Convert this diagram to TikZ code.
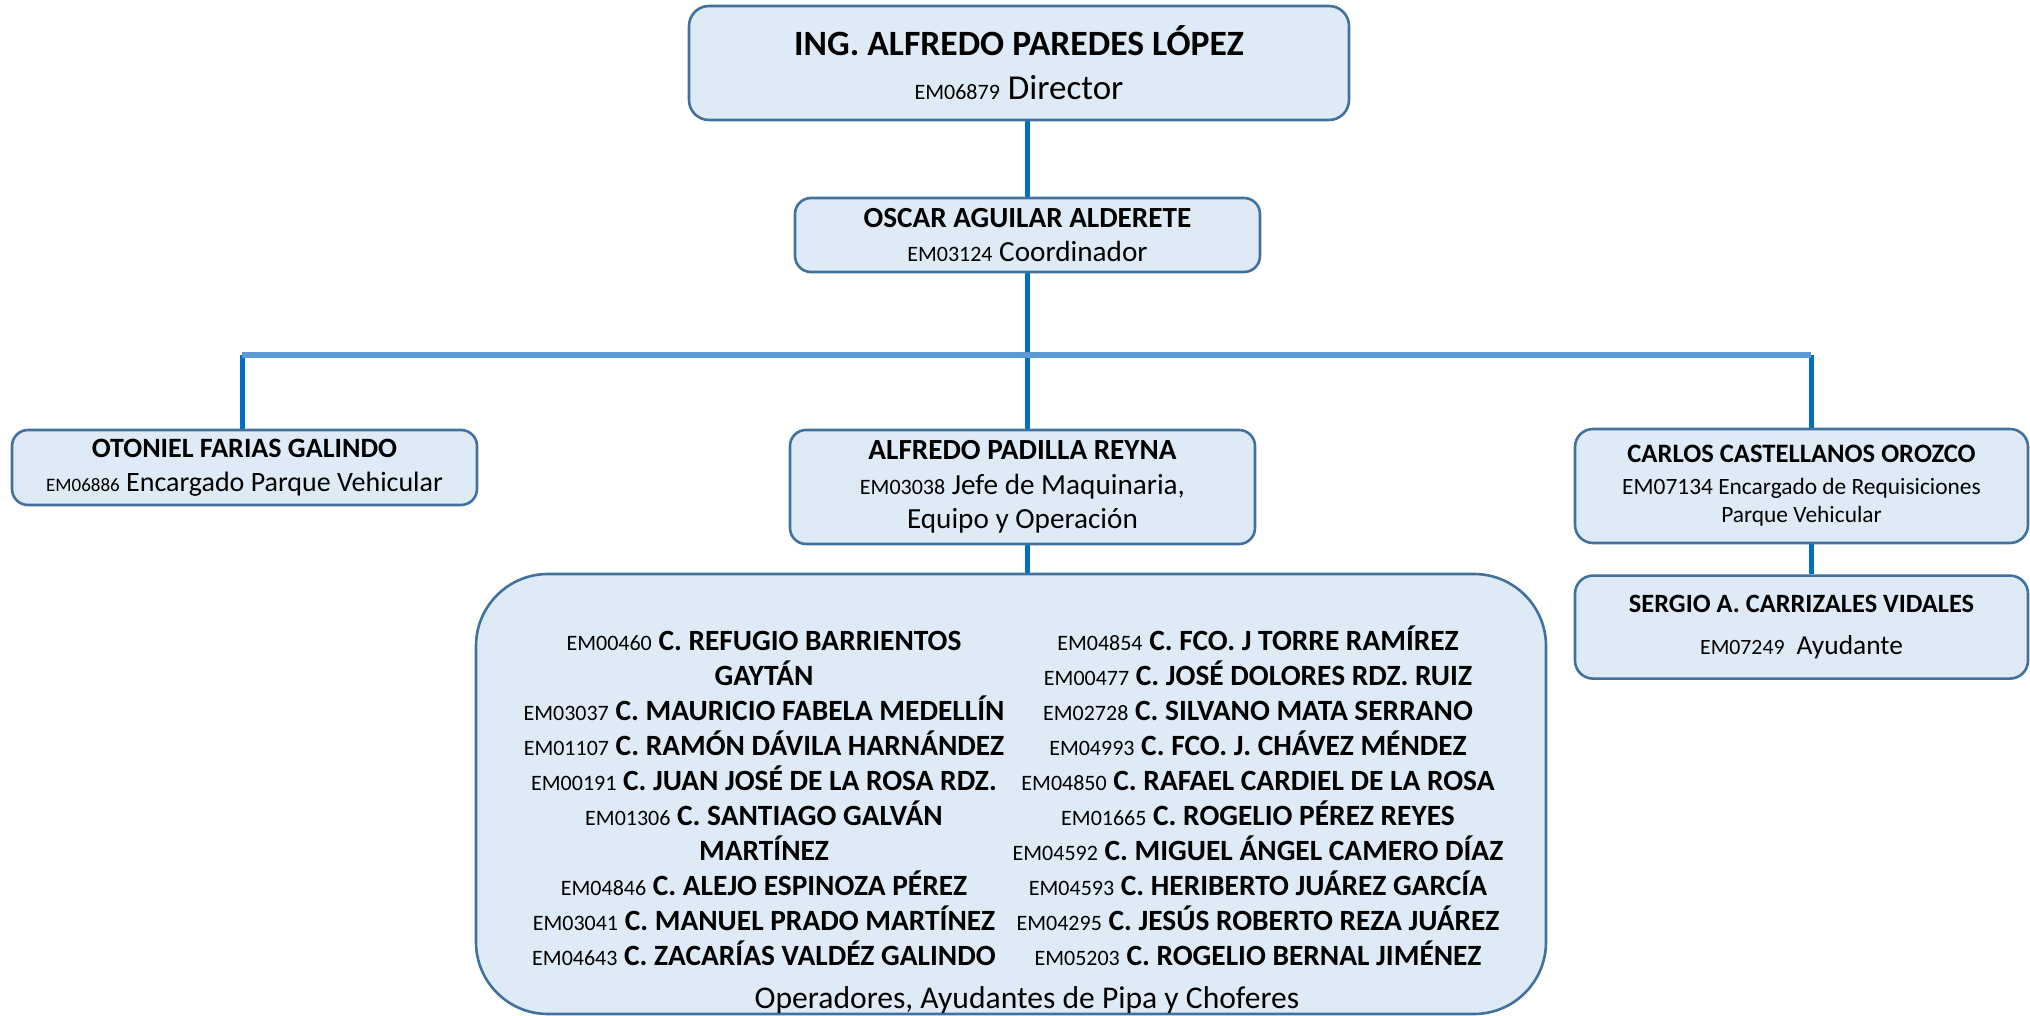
\documentclass[tikz,border=0pt]{standalone}
\usepackage{fontspec}
\setmainfont{Carlito}
\usetikzlibrary{positioning,calc,backgrounds}
\definecolor{cardfill}{HTML}{DEEBF7}
\definecolor{cardline}{HTML}{41719C}
\definecolor{stemblue}{HTML}{0070C0}
\definecolor{busblue}{HTML}{5B9BD5}
\newcommand{\empno}[2][11]{{\mdseries\fontsize{#1}{#1}\selectfont #2}}

\begin{document}
\begin{tikzpicture}[
  card/.style={draw=cardline,line width=1.3pt,fill=cardfill,rounded corners=8pt,inner sep=0pt,align=center},
  stemline/.style={draw=stemblue,line width=2.5pt},
  busline/.style={draw=busblue,line width=2.8pt},
  namecol/.style={inner sep=0pt,align=center,anchor=north,font=\fontsize{14.7}{17.5}\selectfont\bfseries}]
\useasboundingbox (0,0) rectangle (1015pt,-508pt);
% top: director and coordinator
\node[card,rounded corners=10pt,minimum width=330pt,minimum height=57pt,font=\fontsize{17.5}{22}\selectfont] (dir) at (509.5pt,-31.5pt)
  {{\fontsize{17.8}{22}\selectfont\bfseries ING. ALFREDO PAREDES LÓPEZ}\\ \empno{EM06879} Director};
\node[card,minimum width=232.5pt,minimum height=37pt,font=\fontsize{14.6}{17}\selectfont] (coord) at (513.75pt,-117.5pt)
  {\textbf{OSCAR AGUILAR ALDERETE}\\ \empno{EM03124} Coordinador};
% second level
\node[card,minimum width=232.5pt,minimum height=37.5pt,font=\fontsize{14}{17}\selectfont] (oto) at (122.25pt,-233.75pt)
  {\textbf{OTONIEL FARIAS GALINDO}\\ \empno[9.5]{EM06886} Encargado Parque Vehicular};
\node[card,minimum width=232.5pt,minimum height=57pt,font=\fontsize{14.6}{17.25}\selectfont] (padilla) at (511.25pt,-243.5pt)
  {\textbf{ALFREDO PADILLA REYNA}\\ \empno{EM03038} Jefe de Maquinaria,\\ Equipo y Operación};
\node[card,rounded corners=9pt,minimum width=226.5pt,minimum height=57pt,font=\fontsize{11.7}{14}\selectfont] (carlos) at (900.75pt,-243pt)
  {{\fontsize{13.3}{14}\selectfont\bfseries CARLOS CASTELLANOS OROZCO}\\[2pt] EM07134 Encargado de Requisiciones\\ Parque Vehicular};
\node[card,rounded corners=9pt,below=15pt of carlos,minimum width=226.5pt,minimum height=51.5pt,font=\fontsize{13.7}{21}\selectfont] (sergio)
  {{\fontsize{13.2}{21}\selectfont\bfseries SERGIO A. CARRIZALES VIDALES}\\ \empno[10.9]{EM07249}\hspace{6pt}Ayudante};
% crew
\node[card,rounded corners=36pt,minimum width=535pt,minimum height=220pt] (crew) at (505.5pt,-397pt) {};
\node[namecol] (crewL) at (382pt,-312.25pt)
  {\rule{0pt}{13pt}\empno{EM00460} C. REFUGIO BARRIENTOS\\ GAYTÁN\\
   \empno{EM03037} C. MAURICIO FABELA MEDELLÍN\\
   \empno{EM01107} C. RAMÓN DÁVILA HARNÁNDEZ\\
   \empno{EM00191} C. JUAN JOSÉ DE LA ROSA RDZ.\\
   \empno{EM01306} C. SANTIAGO GALVÁN\\ MARTÍNEZ\\
   \empno{EM04846} C. ALEJO ESPINOZA PÉREZ\\
   \empno{EM03041} C. MANUEL PRADO MARTÍNEZ\\
   \empno{EM04643} C. ZACARÍAS VALDÉZ GALINDO};
\node[namecol] (crewR) at (629pt,-312.25pt)
  {\rule{0pt}{13pt}\empno{EM04854} C. FCO. J TORRE RAMÍREZ\\
   \empno{EM00477} C. JOSÉ DOLORES RDZ. RUIZ\\
   \empno{EM02728} C. SILVANO MATA SERRANO\\
   \empno{EM04993} C. FCO. J. CHÁVEZ MÉNDEZ\\
   \empno{EM04850} C. RAFAEL CARDIEL DE LA ROSA\\
   \empno{EM01665} C. ROGELIO PÉREZ REYES\\
   \empno{EM04592} C. MIGUEL ÁNGEL CAMERO DÍAZ\\
   \empno{EM04593} C. HERIBERTO JUÁREZ GARCÍA\\
   \empno{EM04295} C. JESÚS ROBERTO REZA JUÁREZ\\
   \empno{EM05203} C. ROGELIO BERNAL JIMÉNEZ};
\node[inner sep=0pt,anchor=base,font=\fontsize{15.8}{19}\selectfont] (crewtag) at (513.5pt,-504pt)
  {Operadores, Ayudantes de Pipa y Choferes};
% connectors
\coordinate (busL) at (121pt,-177.5pt);
\coordinate (busR) at (905.5pt,-177.5pt);
\begin{scope}[on background layer]
\draw[stemline] (dir.south -| coord.north) -- (coord.north);
\draw[stemline] (coord.south) -- (coord.south |- padilla.north);
\draw[stemline] (busL) -- (busL |- oto.north);
\draw[stemline] (busR) -- (busR |- carlos.north);
\draw[busline] (busL) -- (busR);
\draw[stemline] (padilla.south -| coord.south) -- (coord.south |- crew.north);
\draw[stemline] (busR |- carlos.south) -- (busR |- sergio.north);
\end{scope}
\end{tikzpicture}
\end{document}
